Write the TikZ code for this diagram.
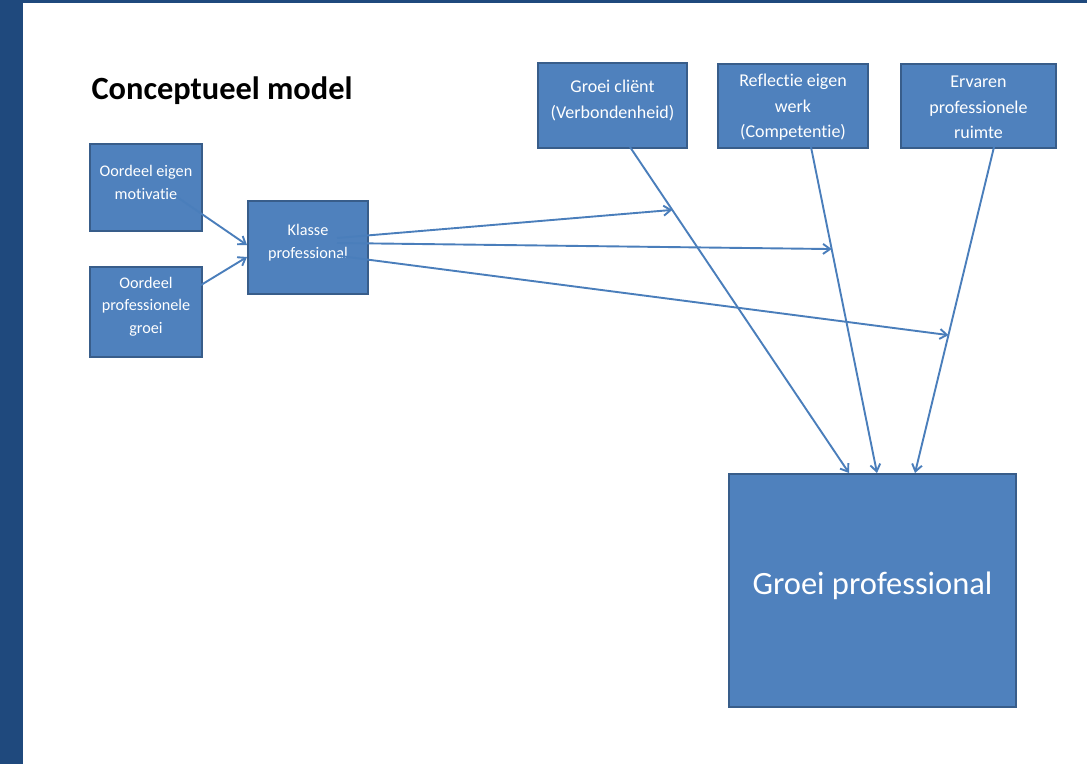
\documentclass[tikz,border=0pt]{standalone}
\usepackage{fontspec}
\setmainfont{Carlito}[Ligatures=CommonOff]
\usetikzlibrary{arrows.meta,calc}
\definecolor{band}{RGB}{31,73,125}
\definecolor{boxfill}{RGB}{79,129,189}
\definecolor{boxline}{RGB}{56,93,138}
\definecolor{arrowc}{RGB}{74,126,187}
\begin{document}
\begin{tikzpicture}[x=1pt,y=-1pt,
  box/.style={draw=boxline, fill=boxfill, line width=2pt, inner sep=0pt, anchor=north west},
  txt/.style={text=white, align=center, inner sep=0pt},
  ltxt/.style={txt, font=\fontsize{16.2}{22.7}\selectfont},
  ttxt/.style={txt, font=\fontsize{18}{25.5}\selectfont},
  arr/.style={draw=arrowc, line width=1.9pt, -{Straight Barb[length=7pt,width=10pt]}}]
\fill[white] (0,0) rectangle (1087,764);
\useasboundingbox (0,0) rectangle (1087,764);
\fill[band] (0,0) rectangle (23,764);
\fill[band] (0,0) rectangle (1087,3);

\node[anchor=base west, font=\fontsize{32.4}{36}\selectfont\bfseries] (title) at (88,99) {Conceptueel model};

% boxes
\node[box, minimum width=112pt, minimum height=87pt] (A) at (89,143) {};
\node[box, minimum width=112pt, minimum height=90pt] (B) at (89,266) {};
\node[box, minimum width=120pt, minimum height=93pt] (K) at (247,200) {};
\node[box, minimum width=149pt, minimum height=85pt] (G) at (537,62) {};
\node[box, minimum width=150pt, minimum height=84pt] (R) at (717,63) {};
\node[box, minimum width=155pt, minimum height=84pt] (E) at (900,63) {};
\node[box, minimum width=287pt, minimum height=233pt] (P) at (728,473) {};

% box texts
\node[ltxt] (At) at ($(A.center)+(0,-5)$) {Oordeel eigen\\motivatie};
\node[ltxt] (Bt) at ($(B.center)+(0,-5.5)$) {Oordeel\\professionele\\groei};
\node[ltxt] (Kt) at ($(K.center)+(0,-5)$) {Klasse\\professional};
\node[ttxt] (Gt) at ($(G.center)+(0,-5)$) {Groei cliënt\\(Verbondenheid)};
\node[ttxt] (Rt) at ($(R.center)+(0,1.5)$) {Reflectie eigen\\werk\\(Competentie)};
\node[ttxt] (Et) at ($(E.center)+(0,1.5)$) {Ervaren\\professionele\\ruimte};
\node[txt, font=\fontsize{32.5}{38}\selectfont] (Pt) at ($(P.center)+(0,-5)$) {Groei professional};

% connectors from the three top boxes to the big box
\coordinate (gs) at (630,147);
\coordinate (rs) at (811,147);
\coordinate (es) at (994,147);
\draw[arr] (gs) -- (P.north -| 849,0) coordinate[pos=0.193] (m1);
\draw[arr] (rs) -- (P.north -| 877,0) coordinate[pos=0.313] (m2);
\draw[arr] (es) -- (P.north -| 915,0) coordinate[pos=0.577] (m3);

% left inputs
\coordinate (as) at (177,197);
\coordinate (bs) at (201,285);
\draw[arr] (as) -- (K.west |- 0,245);
\draw[arr] (bs) -- (K.west |- 0,257);

% moderation arrows
\coordinate (k1) at (337,238);
\coordinate (k2) at (337,243);
\coordinate (k3) at (340,256);
\draw[arr] (k1) -- (m1);
\draw[arr] (k2) -- (m2);
\draw[arr] (k3) -- (m3);
\end{tikzpicture}
\end{document}
